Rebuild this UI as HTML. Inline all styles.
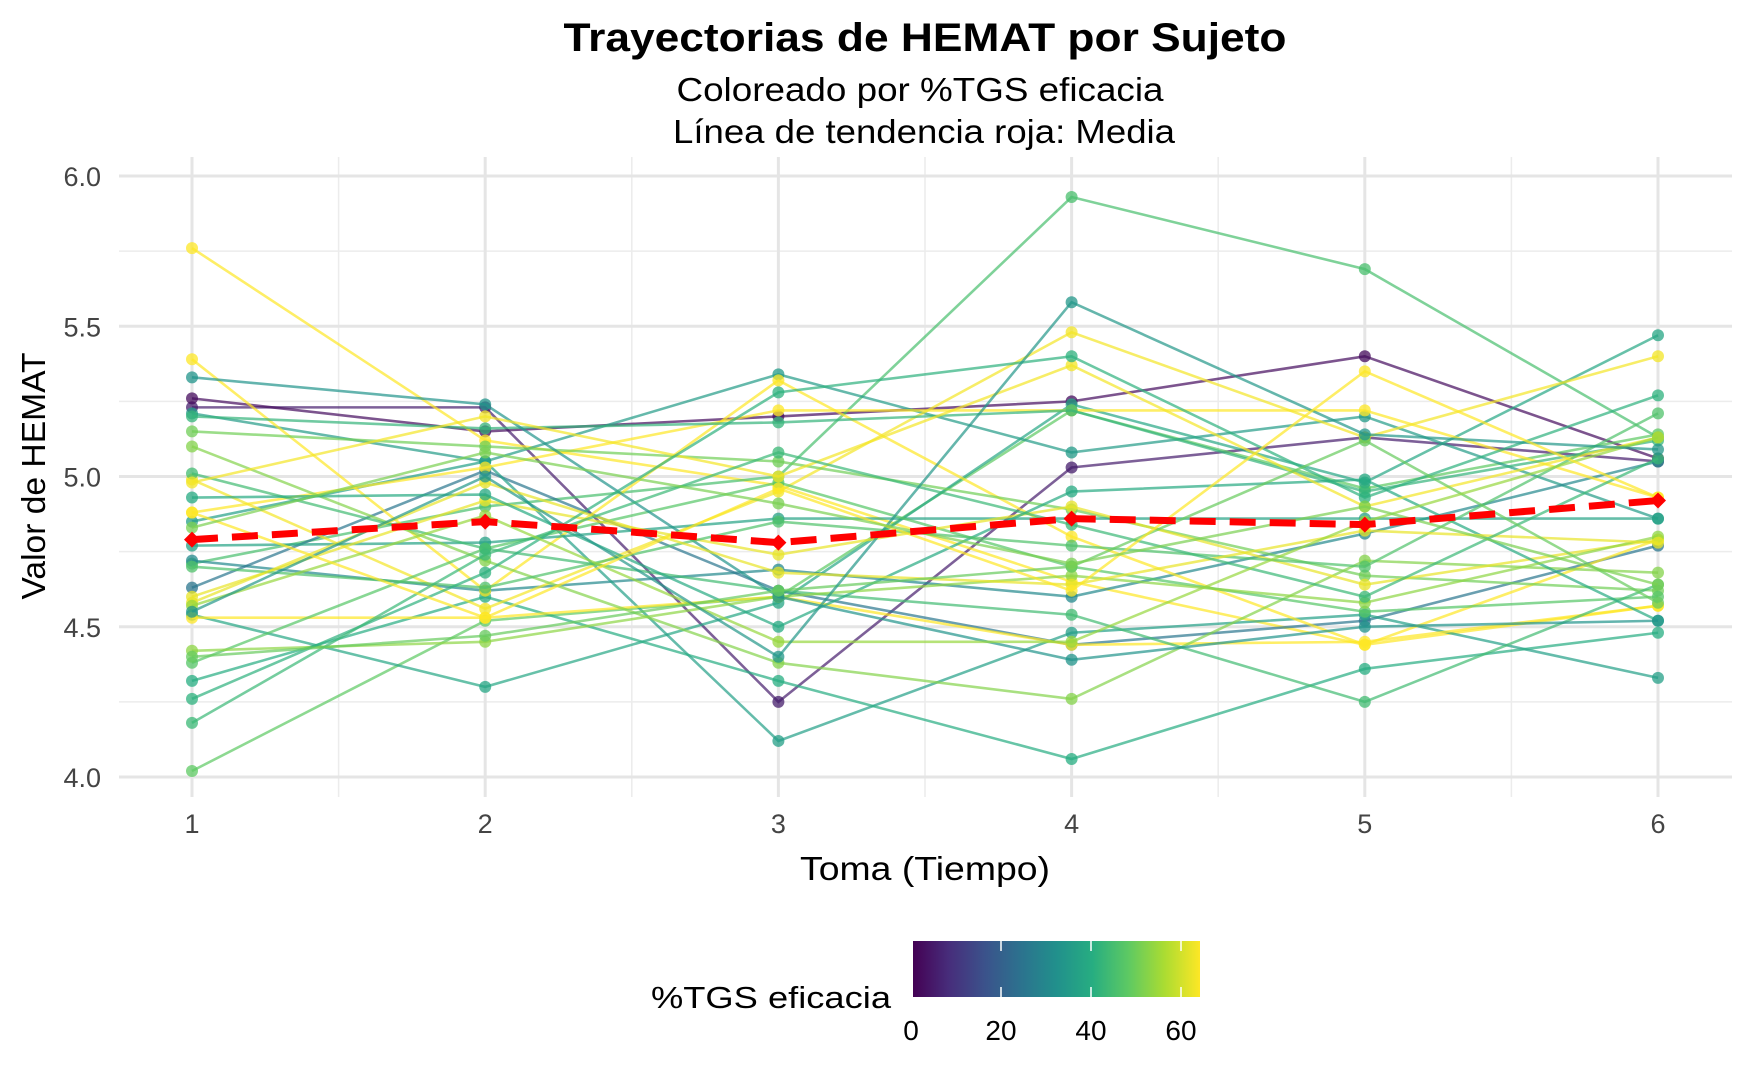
<!DOCTYPE html>
<html><head><meta charset="utf-8"><style>
body{margin:0;background:#fff;}
svg text{font-family:"Liberation Sans",Arial,sans-serif;}
</style></head><body>
<svg id="chart" width="1750" height="1081" viewBox="0 0 1750 1081" xmlns="http://www.w3.org/2000/svg">
<rect width="1750" height="1081" fill="#fff"/>
<text x="925" y="51" text-anchor="middle" font-size="40" font-weight="bold" textLength="723" lengthAdjust="spacingAndGlyphs">Trayectorias de HEMAT por Sujeto</text>
<text x="920" y="101" text-anchor="middle" font-size="33" textLength="487" lengthAdjust="spacingAndGlyphs">Coloreado por %TGS eficacia</text>
<text x="924" y="143" text-anchor="middle" font-size="33" textLength="502" lengthAdjust="spacingAndGlyphs">Línea de tendencia roja: Media</text>
<g id="grid"></g>
<g id="series"></g>
<g id="axes"></g>
<text transform="translate(45,476) rotate(-90)" text-anchor="middle" font-size="33" textLength="247" lengthAdjust="spacingAndGlyphs">Valor de HEMAT</text>
<text x="925" y="880" text-anchor="middle" font-size="33" textLength="250" lengthAdjust="spacingAndGlyphs">Toma (Tiempo)</text>
<g>
<defs><linearGradient id="vir" x1="0" x2="1" y1="0" y2="0">
<stop offset="0" stop-color="#440154"/><stop offset="0.125" stop-color="#472d7b"/><stop offset="0.25" stop-color="#3b528b"/><stop offset="0.375" stop-color="#2c728e"/><stop offset="0.5" stop-color="#21908c"/><stop offset="0.625" stop-color="#27ad81"/><stop offset="0.75" stop-color="#5dc963"/><stop offset="0.875" stop-color="#aadc32"/><stop offset="1" stop-color="#fde725"/></linearGradient></defs>
<text x="651" y="1008" font-size="31" textLength="240" lengthAdjust="spacingAndGlyphs">%TGS eficacia</text>
<rect x="913" y="941" width="287" height="56" fill="url(#vir)"/>
<g id="cbticks"></g>
</g>
</svg>
<script>
const timePoints=[1,2,3,4,5,6];
const yTicks=[4.0,4.5,5.0,5.5,6.0];
const cbTicks=[0,20,40,60];
const tgsValues=[5,2,64,48,45,35,30,25,38,36,40,64,64,63,64,50,42,37,52,47,44,62,39,53,33,63,46,41,62,43,49,54,34,64,51];
const hematValues=[
[5.23,5.23,4.25,5.03,5.13,5.05],
[5.26,5.15,5.20,5.25,5.40,5.06],
[5.76,5.12,4.97,4.65,4.44,4.57],
[4.02,4.52,4.60,5.22,4.96,5.14],
[4.71,4.90,5.00,5.93,5.69,5.13],
[5.21,5.05,5.34,5.08,5.20,4.86],
[4.72,4.62,4.69,4.60,4.81,5.05],
[4.63,5.02,4.62,4.44,4.52,4.77],
[4.54,4.30,4.58,5.24,4.98,5.47],
[4.85,5.05,4.12,4.48,4.54,4.33],
[4.32,4.60,4.32,4.06,4.36,4.48],
[5.39,4.62,5.32,4.80,4.44,4.79],
[4.88,5.03,5.22,5.22,5.22,4.93],
[4.99,4.56,4.95,5.48,5.13,5.40],
[4.53,4.53,4.60,4.44,4.45,4.57],
[5.15,5.10,5.05,4.89,4.67,4.62],
[5.20,5.16,5.18,5.22,4.95,5.12],
[4.77,4.78,4.86,4.86,4.86,4.86],
[5.10,4.72,4.38,4.26,4.72,4.68],
[4.38,4.76,4.98,4.70,4.55,4.60],
[5.01,4.76,4.62,4.54,4.25,4.64],
[4.60,4.92,4.74,4.90,4.64,4.79],
[4.93,4.94,4.50,4.95,4.99,4.52],
[4.42,4.45,4.60,4.67,4.58,4.80],
[5.33,5.24,4.60,4.39,4.50,4.52],
[4.98,5.20,5.00,5.37,4.90,5.13],
[4.70,4.63,4.85,4.77,4.70,5.21],
[4.26,4.68,5.28,5.40,4.93,5.27],
[4.58,4.98,4.68,4.64,4.82,4.78],
[4.18,4.74,5.08,4.84,4.60,5.06],
[4.40,4.47,4.62,4.70,5.12,4.58],
[4.57,4.87,4.45,4.45,4.85,5.13],
[4.55,5.00,4.40,5.58,5.14,5.09],
[4.88,4.53,4.96,4.62,5.35,4.93],
[4.83,5.08,4.91,4.71,4.90,4.64]];
const meanValues=[4.79,4.85,4.78,4.86,4.84,4.92];

const X=t=>192+(t-1)*293.2;
const Y=v=>777-(v-4)*300.5;
const C=v=>911+v*4.5;
const NS="http://www.w3.org/2000/svg";
function mk(tag,attrs,parent){const e=document.createElementNS(NS,tag);for(const k in attrs)e.setAttribute(k,attrs[k]);parent.appendChild(e);return e;}
const stops=[[68,1,84],[71,45,123],[59,82,139],[44,114,142],[33,144,140],[39,173,129],[93,201,99],[170,220,50],[253,231,37]];
function vir(v){let f=Math.max(0,Math.min(1,v/64))*8;let i=Math.min(7,Math.floor(f));let r=f-i;const a=stops[i],b=stops[i+1];return `rgb(${a.map((c,j)=>Math.round(c+(b[j]-c)*r)).join(',')})`;}
const grid=document.getElementById('grid');
for(let v=4.25;v<6;v+=0.5){const l=mk('line',{x1:119,x2:1732,y1:Y(v),y2:Y(v),stroke:'#ececec','stroke-width':1.5},grid);}
for(let t=1.5;t<6;t+=1){const l=mk('line',{x1:X(t),x2:X(t),y1:157,y2:797,stroke:'#ececec','stroke-width':1.5},grid);}
const axes=document.getElementById('axes');
yTicks.forEach(v=>{const l=mk('line',{x1:119,x2:1732,y1:Y(v),y2:Y(v),stroke:'#e5e5e5','stroke-width':3},grid);
const t=mk('text',{x:101,y:Y(v)+10,'text-anchor':'end','font-size':27,fill:'#444'},axes);t.textContent=v.toFixed(1);});
timePoints.forEach(tp=>{const l=mk('line',{x1:X(tp),x2:X(tp),y1:157,y2:797,stroke:'#e5e5e5','stroke-width':3},grid);
const t=mk('text',{x:X(tp),y:833,'text-anchor':'middle','font-size':27,fill:'#444'},axes);t.textContent=tp;});
const series=document.getElementById('series');
hematValues.forEach((vals,i)=>{const col=vir(tgsValues[i]);
const g=mk('g',{},series);
const p=mk('polyline',{points:vals.map((v,j)=>X(timePoints[j])+','+Y(v)).join(' '),fill:'none',stroke:col,'stroke-width':2.6,'stroke-opacity':0.7},g);
vals.forEach((v,j)=>{const c=mk('circle',{cx:X(timePoints[j]),cy:Y(v),r:6,fill:col,'fill-opacity':0.75},g);});});
const mg=mk('g',{},series);
const ml=mk('polyline',{points:meanValues.map((v,j)=>X(timePoints[j])+','+Y(v)).join(' '),fill:'none',stroke:'#ff0000','stroke-width':7,'stroke-dasharray':'26 14'},mg);
meanValues.forEach((v,j)=>{const x=X(timePoints[j]),y=Y(v);const d=mk('polygon',{points:`${x},${y-8} ${x+8},${y} ${x},${y+8} ${x-8},${y}`,fill:'#ff0000'},mg);});
const cb=document.getElementById('cbticks');
cbTicks.forEach(v=>{[[941,951],[987,997]].forEach(([a,b])=>{const l=mk('line',{x1:C(v),x2:C(v),y1:a,y2:b,stroke:'#fff','stroke-width':1.5},cb);});
const t=mk('text',{x:C(v),y:1040,'text-anchor':'middle','font-size':28,fill:'#000'},cb);t.textContent=v;});
</script>
</body></html>
